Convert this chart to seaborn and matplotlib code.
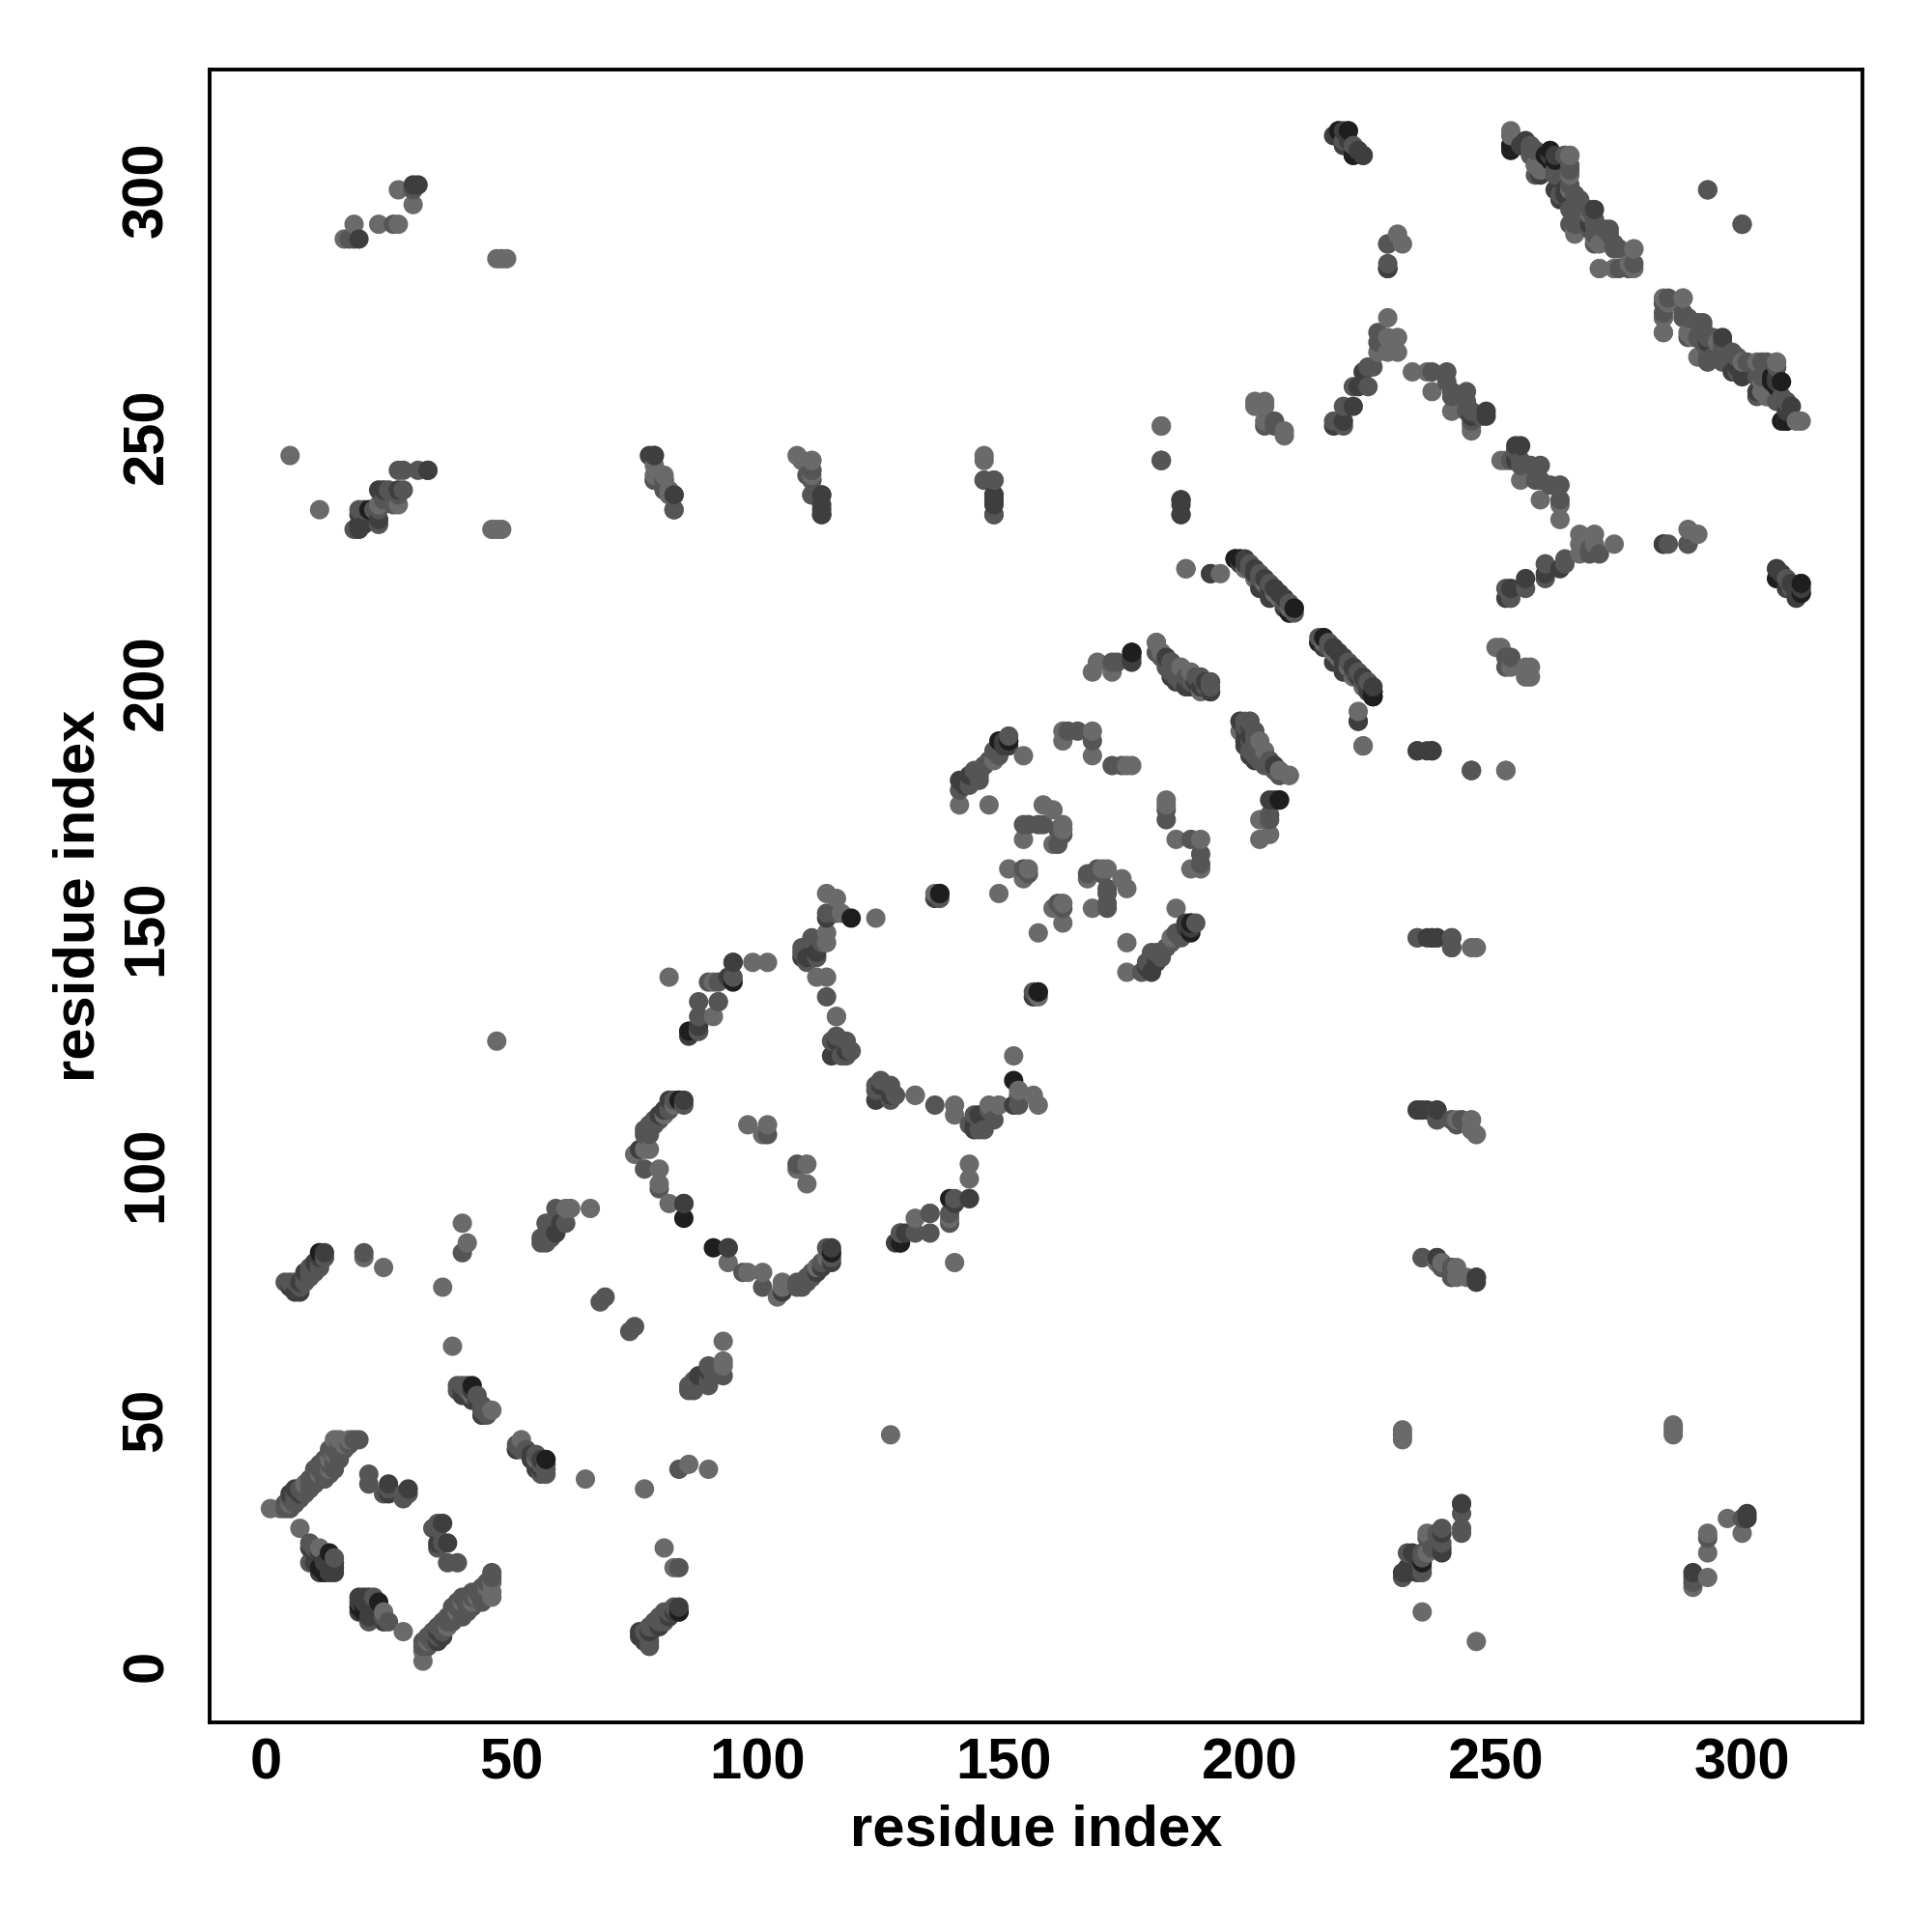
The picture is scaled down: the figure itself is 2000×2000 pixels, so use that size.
import matplotlib
matplotlib.use("Agg")
import matplotlib.pyplot as plt
import seaborn as sns
import pandas as pd

contacts_light = [
    (1, 32), (3, 32), (5, 33), (7, 28), (8, 37), (11, 39), (13, 42), (14, 43), (14, 46), (15, 46), (16, 45), (17, 46),
    (11, 24), (13, 40), (46, 52), (42, 55), (38, 65), (36, 77), (47, 127), (40, 90), (41, 86), (24, 81), (20, 83),
    (5, 246), (11, 235), (16, 290), (18, 293), (23, 293), (27, 293), (27, 300), (30, 297), (47, 286), (48, 286),
    (49, 286), (46, 231), (47, 231), (48, 231), (23, 236), (27, 236), (79, 242), (81, 242), (82, 239), (83, 238),
    (108, 246), (109, 245), (111, 245), (111, 242), (146, 245), (146, 241), (182, 252), (182, 245), (201, 256),
    (203, 256), (207, 250), (66, 93), (62, 93), (61, 93), (82, 140), (102, 143), (99, 143), (98, 110), (102, 110),
    (101, 108), (75, 104), (77, 105), (78, 105), (80, 101), (80, 98), (82, 94), (81, 112), (83, 114), (91, 132),
    (92, 135), (91, 139), (114, 157), (116, 156), (124, 152), (114, 147), (112, 140), (114, 140), (116, 132),
    (114, 149), (117, 153), (132, 116), (149, 157), (136, 157), (141, 175), (147, 175), (154, 185), (148, 184),
    (162, 188), (162, 190), (168, 190), (168, 185), (176, 183), (175, 183), (158, 175), (160, 174), (154, 168),
    (162, 171), (162, 170), (160, 167), (154, 160), (155, 162), (151, 162), (169, 204), (168, 202), (172, 202),
    (181, 208), (182, 206), (184, 204), (186, 203), (188, 202), (192, 200), (198, 190), (206, 181), (208, 181),
    (187, 223), (192, 222), (194, 222), (203, 220), (205, 218), (206, 217), (199, 223), (201, 221), (208, 215),
    (223, 187), (228, 274), (228, 270), (226, 267), (228, 267), (230, 270), (230, 267), (229, 268), (228, 284),
    (228, 289), (231, 289), (230, 291), (233, 263), (236, 263), (237, 259), (241, 255), (245, 251), (245, 252),
    (253, 311), (258, 305), (259, 304), (265, 307), (265, 303), (266, 292), (269, 295), (271, 289), (278, 288),
    (271, 284), (274, 284), (278, 284), (293, 300), (312, 253), (284, 271), (284, 274), (288, 278), (285, 277),
    (290, 270), (291, 266), (300, 265), (304, 261), (305, 258), (307, 265), (252, 182), (245, 182), (246, 146),
    (244, 79), (238, 83), (238, 82), (245, 111), (245, 109), (251, 207), (253, 203), (257, 203), (257, 201),
]
contacts_mid = [
    (4, 32), (4, 33), (5, 34), (6, 34), (6, 35), (7, 36), (8, 36), (9, 37), (9, 38), (10, 38), (10, 39), (11, 40),
    (12, 39), (12, 40), (12, 41), (13, 41), (14, 42), (15, 43), (15, 44), (16, 44), (17, 45), (18, 46), (19, 46),
    (5, 32), (6, 33), (7, 34), (8, 35), (9, 36), (10, 37), (11, 38), (12, 38), (13, 39), (14, 40), (14, 41), (15, 42),
    (10, 40), (11, 41), (12, 42), (13, 44), (14, 44), (15, 45),
    (9, 25), (9, 21), (10, 24), (21, 39), (21, 37), (24, 35), (25, 36), (28, 34), (28, 35), (29, 35), (14, 22),
    (39, 57), (40, 57), (41, 57), (41, 56), (43, 55), (44, 53), (44, 52), (44, 51), (45, 51), (39, 56),
    (40, 84), (68, 74), (69, 75), (56, 86), (56, 87), (58, 87), (58, 88), (57, 90), (59, 91), (59, 93), (61, 90),
    (58, 90), (57, 87), (57, 86),
    (20, 84), (4, 78), (5, 78), (6, 78), (7, 77), (8, 78), (8, 79), (9, 79), (9, 80), (9, 81), (10, 80), (10, 81),
    (11, 81), (11, 82), (12, 83), (18, 231), (19, 235), (20, 235), (23, 232), (22, 235), (23, 235), (24, 237),
    (25, 239), (26, 236), (27, 238), (28, 239), (27, 243), (28, 243), (31, 243), (33, 243), (17, 290), (18, 290),
    (26, 293), (30, 300), (83, 235), (79, 241), (81, 241), (81, 239), (110, 242), (111, 241), (111, 243), (111, 238),
    (113, 234), (148, 241), (148, 234), (186, 234), (203, 252), (205, 252), (77, 101), (80, 97), (85, 94), (79, 110),
    (79, 111), (80, 111), (78, 108), (77, 108), (77, 109), (78, 110), (82, 113), (83, 115), (84, 115), (85, 114),
    (88, 135), (88, 132), (86, 129), (88, 129), (90, 139), (92, 139), (95, 140), (95, 143), (129, 88), (135, 92),
    (102, 108), (109, 146), (110, 143), (111, 148), (112, 144), (113, 147), (114, 136), (115, 127), (116, 128),
    (118, 124), (119, 125), (117, 124), (114, 153), (116, 153), (118, 127), (109, 145), (137, 156), (141, 178),
    (143, 179), (144, 182), (145, 180), (145, 181), (146, 183), (147, 184), (148, 186), (149, 185), (151, 189),
    (165, 190), (163, 190), (168, 188), (172, 183), (174, 183), (154, 171), (155, 171), (157, 171), (158, 171),
    (161, 170), (162, 169), (161, 167), (154, 162), (155, 161), (172, 204), (173, 204), (181, 206), (182, 205),
    (183, 204), (183, 203), (184, 202), (185, 203), (185, 201), (186, 200), (187, 201), (188, 200), (189, 201),
    (190, 201), (191, 199), (192, 199), (198, 192), (200, 192), (201, 188), (199, 188), (204, 184), (197, 225),
    (200, 224), (200, 223), (202, 222), (204, 220), (207, 216), (209, 214), (208, 216), (202, 221), (217, 253),
    (219, 252), (219, 256), (221, 260), (224, 260), (224, 264), (225, 264), (226, 271), (226, 269), (227, 269),
    (228, 284), (220, 312), (220, 310), (221, 309), (219, 310), (237, 263), (240, 263), (240, 261), (241, 259),
    (241, 258), (244, 259), (244, 257), (244, 255), (245, 255), (245, 253), (247, 254), (257, 309), (257, 307),
    (258, 308), (262, 304), (262, 303), (264, 307), (265, 305), (265, 301), (266, 299), (267, 298), (263, 299),
    (266, 296), (266, 294), (265, 293), (268, 296), (270, 294), (269, 292), (270, 291), (273, 292), (273, 291),
    (270, 289), (274, 288), (275, 288), (278, 285), (275, 284), (277, 284), (289, 274), (292, 272), (293, 270),
    (296, 269), (293, 266), (296, 265), (299, 266), (304, 265), (307, 264), (303, 258), (309, 257), (308, 257),
    (300, 293), (285, 228), (289, 228), (253, 205), (241, 81), (239, 81), (241, 79), (246, 79), (235, 83), (234, 148),
    (241, 146), (241, 148), (238, 113), (238, 111), (241, 111), (243, 111), (245, 182), (284, 277),
]
contacts_dark = [
    (6, 76), (7, 76), (7, 78), (10, 82), (11, 83), (11, 84), (12, 84), (8, 80), (5, 77), (5, 35), (6, 36), (7, 35),
    (9, 24), (11, 23), (10, 21), (11, 19), (13, 19), (13, 20), (13, 21), (13, 22), (14, 19), (14, 20), (14, 21),
    (12, 21), (25, 35), (25, 37), (29, 36), (42, 56), (42, 54), (43, 54), (40, 56), (41, 55), (40, 55), (51, 44),
    (23, 233), (19, 231), (19, 232), (19, 234), (20, 232), (23, 239), (24, 239), (27, 239), (30, 301), (31, 301),
    (19, 290), (113, 236), (113, 238), (148, 238), (148, 237), (148, 236), (186, 236), (186, 237), (79, 246),
    (83, 238), (85, 115), (82, 115), (81, 113), (80, 112), (76, 105), (85, 94), (60, 90), (59, 88),
    (88, 130), (86, 128), (94, 140), (95, 143), (109, 144), (110, 144), (112, 145), (115, 124), (118, 125), (116, 127),
    (114, 152), (137, 157), (136, 156), (142, 179), (141, 180), (143, 181), (150, 187), (150, 188), (151, 187),
    (151, 188), (176, 204), (176, 205), (183, 205), (184, 201), (185, 200), (187, 199), (188, 199), (189, 200),
    (190, 199), (191, 200), (192, 198), (199, 225), (198, 224), (199, 224), (201, 222), (201, 223), (203, 221),
    (204, 219), (205, 219), (206, 218), (207, 217), (208, 214), (209, 215), (207, 215), (202, 219), (204, 217),
    (217, 252), (219, 253), (221, 256), (222, 260), (223, 263), (218, 311), (219, 312), (221, 307), (222, 308),
    (223, 307), (228, 284), (248, 254), (248, 255), (245, 254), (253, 309), (259, 303), (261, 307), (262, 307),
    (263, 298), (264, 300), (269, 293), (270, 296), (310, 256), (307, 261), (309, 255), (309, 253), (300, 262),
    (299, 264), (246, 78), (243, 33), (222, 192), (234, 113), (235, 113), (237, 148), (238, 148), (234, 186),
    (237, 186), (307, 223), (309, 219), (310, 220), (311, 217), (312, 218),
]
contacts_darkest = [
    (11, 20), (12, 19), (12, 20), (13, 23), (42, 57), (85, 91), (95, 139), (119, 152), (137, 157), (151, 188),
    (176, 206), (197, 225), (198, 225), (214, 208), (215, 209), (225, 198), (225, 197), (253, 308), (261, 306),
    (262, 306), (307, 260), (308, 261), (149, 188), (21, 235), (84, 115), (218, 312), (309, 253), (307, 221),
    (312, 220), (206, 176), (86, 129), (11, 84),
]

shade_levels = {"light": "#6a6a6a", "mid": "#555555", "dark": "#3e3e3e", "darkest": "#1e1e1e"}
tick_values = [0, 50, 100, 150, 200, 250, 300]

rows = []
for level, contacts in [("light", contacts_light), ("mid", contacts_mid),
                        ("dark", contacts_dark), ("darkest", contacts_darkest)]:
    for i, j in contacts:
        rows.append((i, j, level))
        rows.append((j, i, level))
df = pd.DataFrame(rows, columns=["x", "y", "level"])
# R draws in data order, walking along the residue index
df = df.sort_values(["x", "y"], kind="stable")

sns.set_theme(style="white")
plt.rcParams["font.family"] = ["Liberation Sans", "DejaVu Sans"]
plt.rcParams["text.color"] = "black"
plt.rcParams["axes.labelcolor"] = "black"
plt.rcParams["xtick.color"] = "black"
plt.rcParams["ytick.color"] = "black"

fig = plt.figure(figsize=(10, 10), dpi=200)
ax = fig.add_axes([216.5 / 2000, 1 - 1783 / 2000, (1928 - 216.5) / 2000, (1783 - 72) / 2000])

sns.scatterplot(data=df, x="x", y="y", hue="level", palette=shade_levels, s=52,
                linewidth=0, legend=False, ax=ax)

ax.set_xlim(-11.44, 324.44)
ax.set_ylim(-11.44, 324.44)
ax.set_xticks(tick_values)
ax.set_yticks(tick_values)
ax.tick_params(axis="both", length=3.6, width=1.4, labelsize=21.5)
ax.tick_params(axis="x", pad=2)
ax.tick_params(axis="y", pad=9.5)
for lab in ax.get_xticklabels():
    lab.set_fontweight("bold")
for lab in ax.get_yticklabels():
    lab.set_fontweight("bold")
    lab.set_rotation(90)
    lab.set_va("center")

for sp in ax.spines.values():
    sp.set_color("black")
    sp.set_linewidth(1.4)

ax.set_xlabel("residue index", fontsize=21.5, fontweight="bold", labelpad=5)
ax.set_ylabel("residue index", fontsize=21.5, fontweight="bold", labelpad=5.5)

fig.savefig("out.png", dpi=200, facecolor="white")
